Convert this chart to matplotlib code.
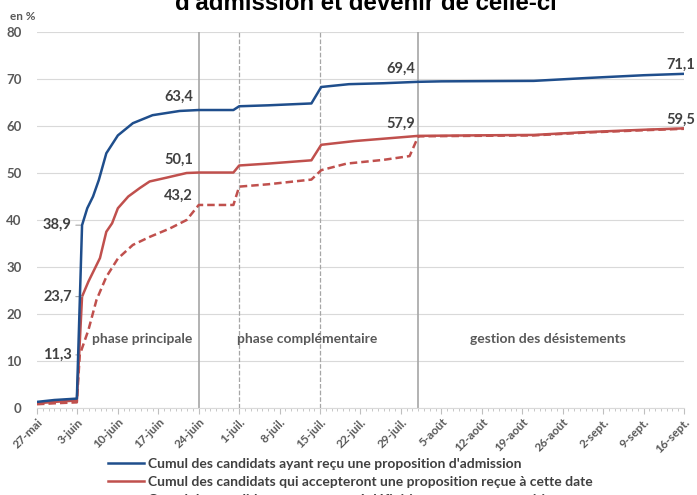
import matplotlib
matplotlib.use("Agg")
from matplotlib import pyplot as plt
from matplotlib.lines import Line2D

# days counted from 27 May
days_prop = [0, 3, 6.9, 7.8, 8.7, 9.7, 10.7, 12, 14, 16.6, 20, 24.7, 28, 34, 35, 40, 47.5,
             49.2, 54, 60, 66, 70, 86, 95, 105, 112]
vals_prop = [1.3, 1.7, 2.0, 38.9, 42.5, 45.0, 48.5, 54.2, 58.0, 60.6, 62.3, 63.2, 63.4, 63.4, 64.2,
             64.4, 64.8, 68.3, 68.9, 69.1, 69.4, 69.5, 69.6, 70.2, 70.8, 71.1]

days_acc = [0, 3, 6.9, 7.8, 8.9, 9.9, 10.9, 12, 13, 14, 15.8, 17.8, 19.5, 22.4, 25.9, 28, 34, 35,
            40, 47.5, 49.2, 55, 60, 66, 75, 86, 95, 105, 112]
vals_acc = [1.0, 1.3, 1.6, 23.7, 26.9, 29.4, 31.9, 37.5, 39.3, 42.5, 45.0, 46.8, 48.2, 49.0, 50.0,
            50.1, 50.1, 51.6, 52.0, 52.7, 56.0, 56.8, 57.3, 57.9, 58.0, 58.1, 58.7, 59.2, 59.5]

days_def = [0, 3, 6.9, 7.4, 8.9, 10.3, 12, 14, 16.6, 19.5, 23, 25.9, 28, 34, 35, 40, 47.5, 49.2,
            53.6, 60, 64.5, 66, 75, 86, 95, 105, 112]
vals_def = [0.8, 1.0, 1.2, 11.3, 16.6, 23.0, 27.9, 31.8, 34.7, 36.4, 38.2, 40.0, 43.2, 43.2, 47.1,
            47.6, 48.6, 50.6, 52.0, 52.8, 53.6, 57.8, 57.9, 58.0, 58.6, 59.1, 59.4]

tick_days = list(range(0, 113, 7))
tick_labels = ['27-mai', '3-juin', '10-juin', '17-juin', '24-juin', '1-juil.', '8-juil.',
               '15-juil.', '22-juil.', '29-juil.', '5-août', '12-août', '19-août', '26-août',
               '2-sept.', '9-sept.', '16-sept.']

labels = ["Cumul des candidats ayant reçu une proposition d'admission",
          "Cumul des candidats qui accepteront une proposition reçue à cette date",
          "Cumul des candidats ayant accepté définitivement une proposition"]

blue = '#1f4e8c'
red = '#c0504d'
grey_txt = '#595959'
font = 'Lato'

fig = plt.figure(figsize=(6.97, 4.95), dpi=100)
ax = fig.add_axes([37 / 697, 1 - 408 / 495, (684 - 37) / 697, (408 - 32) / 495])

ax.plot(days_prop, vals_prop, color=blue, lw=1.8, zorder=4)
ax.plot(days_acc, vals_acc, color=red, lw=1.8, zorder=3)
ax.plot(days_def, vals_def, color=red, lw=1.8, ls=(0, (3, 1.6)), zorder=3)

# phase separators
for d, style in [(28, '-'), (35, '--'), (49, '--'), (66, '-')]:
    ax.axvline(d, color='#a6a6a6', lw=1.2 if style == '-' else 0.9, ls=style, zorder=2)

ax.set_xlim(0, 112)
ax.set_ylim(0, 80)
ax.set_yticks(range(0, 81, 10))
ax.grid(axis='y', color='#d9d9d9', lw=0.8)
ax.set_axisbelow(True)
for s in ['top', 'right', 'left']:
    ax.spines[s].set_visible(False)
ax.spines['bottom'].set_color('#d9d9d9')

ax.set_xticks(tick_days)
ax.set_xticks(range(0, 113), minor=True)
ax.set_xticklabels(tick_labels, rotation=45, ha='right', rotation_mode='anchor',
                   fontsize=8.5, fontweight='bold', color=grey_txt, family=font)
ax.tick_params(axis='x', which='major', length=4, color='#bfbfbf', pad=2)
ax.tick_params(axis='x', which='minor', length=2.5, color='#bfbfbf')
ax.tick_params(axis='y', length=0, pad=11)
for t in ax.get_yticklabels():
    t.set_fontsize(9.5)
    t.set_fontweight('bold')
    t.set_color(grey_txt)
    t.set_family(font)

txt = dict(fontsize=10.5, fontweight='bold', color='#404040', family=font)
ax.text(27, 64.8, '63,4', ha='right', va='bottom', **txt)
ax.text(27, 51.4, '50,1', ha='right', va='bottom', **txt)
ax.text(27, 43.6, '43,2', ha='right', va='bottom', **txt)
ax.text(65.5, 70.6, '69,4', ha='right', va='bottom', **txt)
ax.text(65.5, 59.0, '57,9', ha='right', va='bottom', **txt)
ax.text(113.9, 71.6, '71,1', ha='right', va='bottom', **txt)
ax.text(113.9, 59.9, '59,5', ha='right', va='bottom', **txt)

for d, v, lab in [(7.8, 38.9, '38,9'), (7.8, 23.7, '23,7'), (7.2, 11.3, '11,3')]:
    ax.annotate(lab, xy=(d, v), xytext=(6.0, v), ha='right', va='center',
                arrowprops=dict(arrowstyle='-', color='#a6a6a6', lw=0.8, shrinkA=1, shrinkB=0), **txt)

phase = dict(fontsize=10, fontweight='bold', color=grey_txt, family=font, va='center')
ax.text(18.2, 14.6, 'phase principale', ha='center', **phase)
ax.text(46.7, 14.6, 'phase complémentaire', ha='center', **phase)
ax.text(88.4, 14.6, 'gestion des désistements', ha='center', **phase)

fig.text(10 / 697, 1 - 16 / 495, 'en %', fontsize=8.5, fontweight='bold', color=grey_txt,
         family=font, va='center')
fig.text(366 / 697, 1 - 10 / 495, "d'admission et devenir de celle-ci", fontsize=17.3,
         fontweight='bold', ha='center', va='baseline', family='Liberation Sans')

handles = [Line2D([], [], color=blue, lw=1.8), Line2D([], [], color=red, lw=1.8),
           Line2D([], [], color=red, lw=1.8, ls=(0, (3, 1.6)))]
fig.legend(handles, labels, loc='upper left', bbox_to_anchor=(108 / 697, 1 - 458 / 495),
           frameon=False, handlelength=2.6, handletextpad=0.25, labelspacing=0.45,
           prop=dict(family=font, weight='bold', size=10), labelcolor='#404040',
           borderaxespad=0, borderpad=0)

fig.savefig('out.png', dpi=100)
